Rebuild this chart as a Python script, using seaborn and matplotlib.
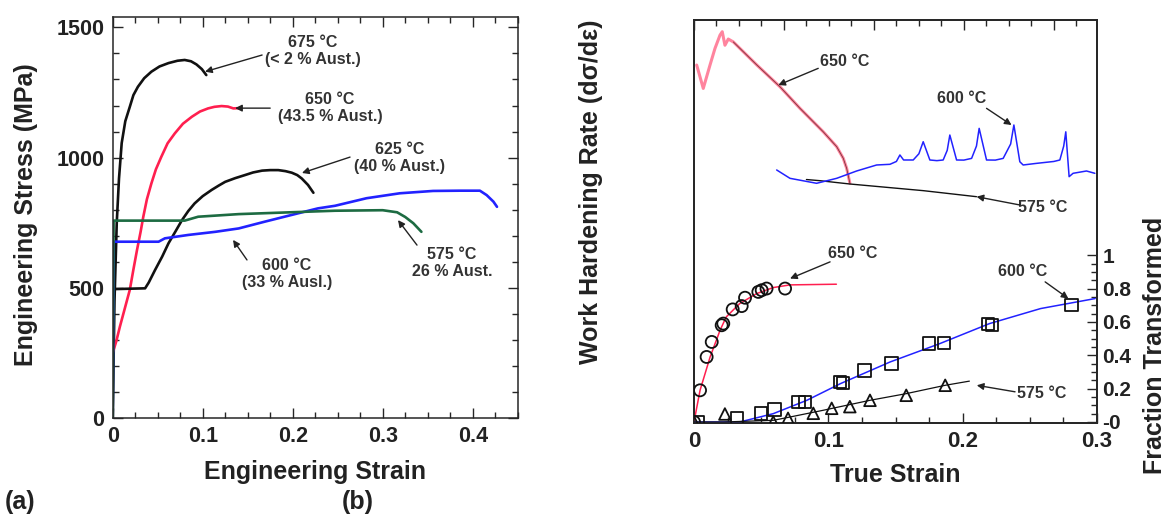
import numpy as np
import matplotlib
matplotlib.use("Agg")
import matplotlib.pyplot as plt
from matplotlib.ticker import MultipleLocator, FixedLocator, FuncFormatter, NullFormatter
import seaborn as sns

# ---------------- data: (a) engineering stress-strain ----------------
strain675 = [0, 0.002, 0.0045, 0.007, 0.010, 0.014, 0.019, 0.023, 0.028, 0.035, 0.043, 0.052, 0.062, 0.072, 0.080, 0.087, 0.093, 0.099, 0.104]
stress675 = [0, 450, 750, 920, 1056, 1140, 1195, 1240, 1272, 1305, 1330, 1350, 1363, 1372, 1375, 1370, 1358, 1340, 1317]

strain650 = [0, 0.004, 0.008, 0.013, 0.019, 0.023, 0.027, 0.031, 0.034, 0.038, 0.043, 0.048, 0.054, 0.061, 0.069, 0.078, 0.088, 0.097, 0.106, 0.113, 0.121, 0.128, 0.134, 0.1415]
stress650 = [250, 295, 351, 415, 492, 570, 645, 715, 773, 840, 901, 955, 1003, 1055, 1093, 1130, 1157, 1177, 1189, 1195, 1198, 1196, 1189, 1190]

strain625 = [0, 0.001, 0.036, 0.040, 0.047, 0.055, 0.062, 0.070, 0.077, 0.084, 0.091, 0.100, 0.110, 0.118, 0.125, 0.136, 0.147, 0.156, 0.166, 0.175, 0.184, 0.192, 0.199, 0.205, 0.210, 0.217, 0.223]
stress625 = [0, 495, 498, 520, 568, 620, 671, 718, 760, 795, 824, 852, 876, 893, 907, 921, 933, 943, 950, 952, 952, 948, 942, 933, 920, 895, 865]

strain600 = [0, 0.001, 0.051, 0.058, 0.084, 0.114, 0.140, 0.169, 0.199, 0.228, 0.247, 0.282, 0.319, 0.356, 0.386, 0.408, 0.4155, 0.423, 0.427]
stress600 = [0, 677, 677, 690, 703, 715, 728, 754, 780, 805, 815, 844, 863, 872, 873, 873, 856, 831, 811]

strain575 = [0, 0.001, 0.080, 0.095, 0.140, 0.214, 0.247, 0.300, 0.316, 0.325, 0.334, 0.343]
stress575 = [0, 758, 758, 773, 783, 792, 796, 798, 790, 772, 748, 715]

# ---------------- data: (b) work hardening rate (upper, top strain scale) ----------------
hard650_x = [0.003, 0.0103, 0.0178, 0.0233, 0.0289, 0.0314, 0.0344, 0.0381, 0.0437, 0.0697, 0.0956, 0.1178, 0.1437, 0.1586, 0.1659, 0.1697, 0.1733]
hard650_y = [12160, 7700, 12160, 16800, 21800, 23300, 17900, 20200, 19100, 12200, 7950, 5220, 3300, 2470, 1970, 1620, 1210]

hard600_x = [0.0919, 0.1067, 0.1363, 0.1586, 0.1808, 0.2030, 0.2178, 0.2250, 0.2289, 0.2330, 0.2437,
             0.2500, 0.2548, 0.2622, 0.2700, 0.2770, 0.2815, 0.2844, 0.2919, 0.3000, 0.3086,
             0.3140, 0.3170, 0.3252, 0.3350, 0.3437, 0.3520, 0.3556, 0.3622, 0.3659, 0.3800,
             0.4000, 0.4067, 0.4110, 0.4133, 0.4170, 0.4214, 0.4363, 0.4456]
hard600_y = [1567, 1331, 1208, 1331, 1536, 1727, 1750, 1850, 2100, 1904, 1904,
             2150, 2720, 1904, 1880, 1904, 2300, 3100, 1904, 1900, 1965,
             2500, 3530, 1904, 1900, 1965, 2600, 3770, 1840, 1727, 1780,
             1850, 1904, 2500, 3300, 1375, 1468, 1536, 1468]

hard575_x = [0.125, 0.140, 0.173, 0.255, 0.314]
hard575_y = [1300, 1271, 1192, 1046, 930]

# ---------------- data: (b) fraction transformed (lower, bottom strain scale) ----------------
circ650_x = [0, 0.0045, 0.0094, 0.0132, 0.0206, 0.0218, 0.0288, 0.0355, 0.038, 0.0479, 0.0504, 0.054, 0.0678]
circ650_y = [0, 0.19, 0.39, 0.48, 0.58, 0.59, 0.675, 0.695, 0.745, 0.78, 0.79, 0.80, 0.80]
fit650_x = [0, 0.0045, 0.012, 0.0194, 0.024, 0.034, 0.0467, 0.059, 0.0715, 0.106]
fit650_y = [0, 0.19, 0.39, 0.55, 0.63, 0.71, 0.77, 0.806, 0.822, 0.826]

sq600_x = [0.003, 0.032, 0.050, 0.060, 0.0777, 0.0827, 0.1087, 0.111, 0.127, 0.147, 0.175, 0.186, 0.219, 0.2217, 0.281]
sq600_y = [0, 0.02, 0.05, 0.076, 0.12, 0.12, 0.24, 0.235, 0.31, 0.35, 0.47, 0.475, 0.587, 0.58, 0.70]
fit600_x = [0, 0.034, 0.059, 0.084, 0.109, 0.146, 0.183, 0.22, 0.258, 0.2986]
fit600_y = [0, 0.0, 0.05, 0.13, 0.23, 0.36, 0.47, 0.59, 0.68, 0.74]

tri575_x = [0, 0.023, 0.059, 0.070, 0.0888, 0.1025, 0.116, 0.131, 0.158, 0.187]
tri575_y = [0, 0.048, 0, 0.022, 0.052, 0.082, 0.092, 0.13, 0.16, 0.22]
fit575_x = [0, 0.022, 0.059, 0.0715, 0.096, 0.131, 0.158, 0.187, 0.205]
fit575_y = [0, 0.0, 0.01, 0.03, 0.07, 0.13, 0.17, 0.22, 0.245]

# ---------------- style ----------------
sns.set_style("ticks")
plt.rcParams['font.family'] = ['Liberation Sans', 'DejaVu Sans']
plt.rcParams['font.weight'] = 'bold'
plt.rcParams['axes.linewidth'] = 1.1

BLACK = '#111111'
RED = '#ff1f4f'
BLUE = '#2222ff'
GREEN = '#1d6b42'
ANN = '#333333'

fig = plt.figure(figsize=(11.74, 5.2), dpi=100)
W, H = 1174.0, 520.0

def px_axes(l, t, r, b):
    return fig.add_axes([l / W, 1 - b / H, (r - l) / W, (b - t) / H])

def lp(ax, x, y, **kw):
    sns.lineplot(x=x, y=y, ax=ax, sort=False, estimator=None, **kw)

# ================= panel (a) =================
ax1 = px_axes(112.7, 17, 517.7, 418)
lp(ax1, strain675, stress675, color=BLACK, lw=1.9)
lp(ax1, strain650, stress650, color=RED, lw=1.9)
lp(ax1, strain625, stress625, color=BLACK, lw=1.9)
lp(ax1, strain600, stress600, color=BLUE, lw=1.9)
lp(ax1, strain575, stress575, color=GREEN, lw=1.9)
ax1.set_xlim(0, 0.45)
ax1.set_ylim(0, 1540)
ax1.xaxis.set_major_locator(MultipleLocator(0.1))
ax1.xaxis.set_minor_locator(MultipleLocator(0.025))
ax1.yaxis.set_major_locator(MultipleLocator(500))
ax1.yaxis.set_minor_locator(MultipleLocator(100))
ax1.xaxis.set_major_formatter(FuncFormatter(lambda v, p: '%g' % round(v, 3)))
ax1.tick_params(which='both', direction='in', top=True, right=True, width=1.0)
ax1.tick_params(which='major', length=7, labelsize=15.5, pad=6)
ax1.tick_params(which='minor', length=4)
ax1.set_xlabel('')
ax1.set_ylabel('')
for lab in ax1.get_xticklabels() + ax1.get_yticklabels():
    lab.set_fontweight('bold')
    lab.set_color('#222222')

def ann_text(ax, x, y, s):
    ax.text(x, y, s, ha='center', va='center', fontsize=11.5, fontweight='bold',
            color=ANN, linespacing=1.2)

def arrow(ax, head, tail):
    ax.annotate('', xy=head, xytext=tail, xycoords='data', textcoords='data',
                arrowprops=dict(arrowstyle='-|>', color='#222222', lw=1.0,
                                mutation_scale=10, shrinkA=0, shrinkB=0))

ann_text(ax1, 0.2226, 1409, '675 °C\n(< 2 % Aust.)')
arrow(ax1, (0.1026, 1330), (0.166, 1394))
ann_text(ax1, 0.2415, 1190, '650 °C\n(43.5 % Aust.)')
arrow(ax1, (0.136, 1190), (0.175, 1190))
ann_text(ax1, 0.3192, 998, '625 °C\n(40 % Aust.)')
arrow(ax1, (0.2103, 941), (0.2637, 1002))
ann_text(ax1, 0.1937, 553, '600 °C\n(33 % Ausl.)')
arrow(ax1, (0.1337, 684), (0.1492, 607))
ann_text(ax1, 0.377, 595, '575 °C\n26 % Aust.')
arrow(ax1, (0.317, 760), (0.3381, 664))

# ================= panel (b) =================
ax2 = px_axes(694, 20, 1097, 423)
ax2.set_yscale('log')
ax2.set_ylim(11.2, 29300)
ax2.set_xlim(0, 0.3)

ax2t = ax2.twiny()
ax2t.set_xlim(0, 0.448)
ax2t.set_yscale('log')
ax2t.set_ylim(11.2, 29300)

ax2r = ax2.twinx()
ax2r.set_ylim(-0.006, 2.41)

# upper curves (work hardening)
lp(ax2t, hard650_x, hard650_y, color=RED, lw=2.2, alpha=0.55)
lp(ax2t, hard650_x[8:], hard650_y[8:], color='#5a2020', lw=0.6, alpha=0.8)
lp(ax2t, hard575_x, hard575_y, color=BLACK, lw=1.0)
lp(ax2t, hard600_x, hard600_y, color=BLUE, lw=1.1)

# lower curves (fraction transformed)
lp(ax2r, fit650_x, fit650_y, color=RED, lw=1.1)
lp(ax2r, fit600_x, fit600_y, color=BLUE, lw=1.1)
lp(ax2r, fit575_x, fit575_y, color=BLACK, lw=0.9)
mk = dict(facecolor='none', edgecolor=BLACK, linewidth=1.3, zorder=5)
sns.scatterplot(x=circ650_x, y=circ650_y, ax=ax2r, marker='o', s=75, **mk)
sns.scatterplot(x=sq600_x, y=sq600_y, ax=ax2r, marker='s', s=80, **mk)
sns.scatterplot(x=tri575_x, y=tri575_y, ax=ax2r, marker='^', s=70, **mk)
ax2r.set_ylim(-0.006, 2.41)

# ticks, panel (b)
ax2.xaxis.set_major_locator(MultipleLocator(0.1))
ax2.xaxis.set_minor_locator(MultipleLocator(0.025))
ax2.xaxis.set_major_formatter(FuncFormatter(lambda v, p: '%g' % round(v, 3)))
ax2.yaxis.set_major_locator(FixedLocator([1000, 10000]))
ax2.yaxis.set_minor_locator(FixedLocator([400, 500, 600, 700, 800, 900, 2000, 3000, 4000, 5000,
                                          6000, 7000, 8000, 9000, 20000]))
ax2.yaxis.set_major_formatter(FuncFormatter(lambda v, p: '%d' % v))
ax2.yaxis.set_minor_formatter(NullFormatter())
ax2.tick_params(which='both', direction='in', top=False, right=False, width=1.0)
ax2.tick_params(which='major', length=7, labelsize=16, pad=6)
ax2.tick_params(which='minor', length=4)

ax2t.xaxis.set_major_locator(MultipleLocator(0.1))
ax2t.xaxis.set_minor_locator(MultipleLocator(0.025))
ax2t.tick_params(which='both', direction='in', top=True, labeltop=False, bottom=False,
                 left=False, right=False, labelleft=False, width=1.0)
ax2t.tick_params(which='major', length=7)
ax2t.tick_params(which='minor', length=4)
ax2t.yaxis.set_major_locator(FixedLocator([]))
ax2t.yaxis.set_minor_locator(FixedLocator([]))

ax2r.yaxis.set_major_locator(FixedLocator([0, 0.2, 0.4, 0.6, 0.8, 1.0]))
ax2r.yaxis.set_minor_locator(FixedLocator([0.05, 0.1, 0.15, 0.25, 0.3, 0.35, 0.45, 0.5, 0.55,
                                           0.65, 0.7, 0.75, 0.85, 0.9, 0.95]))
ax2r.yaxis.set_major_formatter(FuncFormatter(lambda v, p: '-0' if v == 0 else '%g' % round(v, 2)))
ax2r.tick_params(which='both', direction='in', right=True, left=False, width=1.0)
ax2r.tick_params(which='major', length=7, labelsize=15, pad=4)
ax2r.tick_params(which='minor', length=4)

for a in (ax2, ax2t, ax2r):
    a.set_xlabel('')
    a.set_ylabel('')
for lab in ax2.get_xticklabels() + ax2.get_yticklabels() + ax2r.get_yticklabels():
    lab.set_fontweight('bold')
    lab.set_color('#222222')

# annotations, panel (b) upper
ann_text(ax2t, 0.1678, 12970, '650 °C')
arrow(ax2t, (0.0937, 8220), (0.1381, 11400))
ann_text(ax2t, 0.2974, 6350, '600 °C')
arrow(ax2t, (0.353, 3770), (0.3252, 5220))
ann_text(ax2t, 0.3878, 747, '575 °C')
arrow(ax2t, (0.3141, 930), (0.3622, 791))
# lower
ann_text(ax2r, 0.1184, 1.012, '650 °C')
arrow(ax2r, (0.0715, 0.86), (0.1013, 0.96))
ann_text(ax2r, 0.245, 0.90, '600 °C')
arrow(ax2r, (0.2787, 0.74), (0.2614, 0.84))
ann_text(ax2r, 0.2589, 0.172, '575 °C')
arrow(ax2r, (0.2105, 0.22), (0.239, 0.181))

# axis titles (placed in figure pixels)
def ftext(x, y, s, rot=0, size=18):
    fig.text(x / W, 1 - y / H, s, ha='center', va='center', rotation=rot,
             fontsize=size, fontweight='bold', color='#222222')

ftext(26, 215, 'Engineering Stress (MPa)', rot=90)
ftext(315, 472, 'Engineering Strain')
ftext(591, 192, 'Work Hardening Rate (dσ/dε)', rot=90)
ftext(895, 475, 'True Strain')
ftext(1155, 345, 'Fraction Transformed', rot=90)
ftext(20, 502, '(a)')
ftext(358, 502, '(b)')

fig.savefig('out.png', dpi=100, facecolor='white')
